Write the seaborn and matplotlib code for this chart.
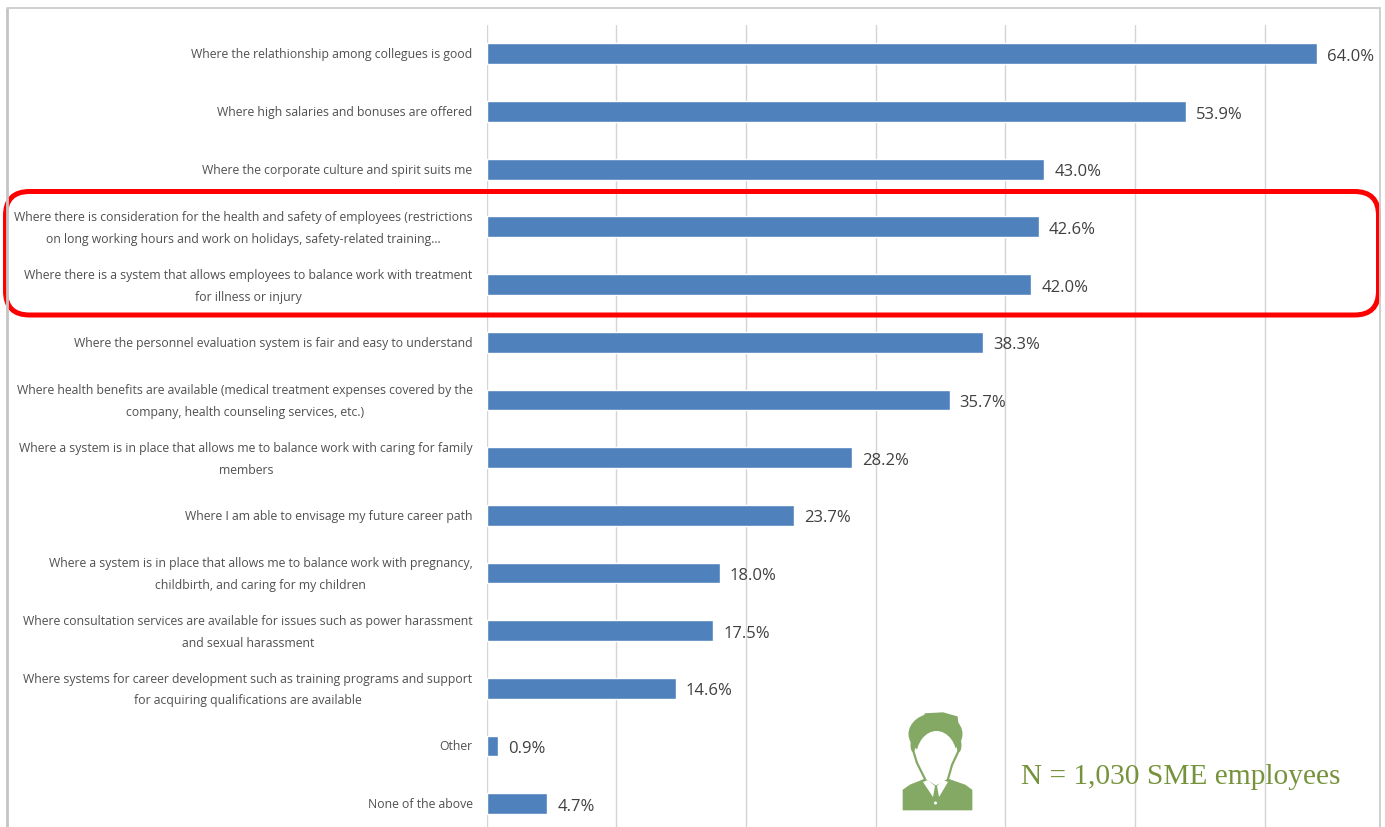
import matplotlib
matplotlib.use('Agg')
import matplotlib.pyplot as plt
import matplotlib.transforms as mtrans
import pandas as pd
import seaborn as sns
from matplotlib.patches import FancyBboxPatch, Ellipse, Polygon

#-Data-----------------------------------------------------------------------------------------------

labels = [
    'Where the relathionship among collegues is good',
    'Where high salaries and bonuses are offered',
    'Where the corporate culture and spirit suits me',
    'Where there is consideration for the health and safety of employees (restrictions\non long working hours and work on holidays, safety-related training...',
    'Where there is a system that allows employees to balance work with treatment\nfor illness or injury',
    'Where the personnel evaluation system is fair and easy to understand',
    'Where health benefits are available (medical treatment expenses covered by the\ncompany, health counseling services, etc.)',
    'Where a system is in place that allows me to balance work with caring for family\nmembers',
    'Where I am able to envisage my future career path',
    'Where a system is in place that allows me to balance work with pregnancy,\nchildbirth, and caring for my children',
    'Where consultation services are available for issues such as power harassment\nand sexual harassment',
    'Where systems for career development such as training programs and support\nfor acquiring qualifications are available',
    'Other',
    'None of the above',
]
values = [64.0, 53.9, 43.0, 42.6, 42.0, 38.3, 35.7, 28.2, 23.7, 18.0, 17.5, 14.6, 0.9, 4.7]
grid_ticks = [0, 10, 20, 30, 40, 50, 60]

df = pd.DataFrame({'label': labels, 'value': values})

W, H = 1385, 827
BLUE = '#4f81bd'
GREEN = '#83a964'

#-Figure---------------------------------------------------------------------------------------------

sns.set_style('white')
plt.rcParams['font.family'] = ['Open Sans', 'DejaVu Sans']

fig = plt.figure(figsize=(W / 100, H / 100), dpi=100)
ax = fig.add_axes([486.5 / W, (H - 832.5) / H, (1380 - 486.5) / W, (832.5 - 25) / H])

sns.barplot(data=df, x='value', y='label', color=BLUE, saturation=1, width=0.36, ax=ax)

ax.set_xlim(0, (1380 - 486.5) / 12.97)
ax.set_ylim(len(labels) - 0.5, -0.5)
ax.set_xticks(grid_ticks)
ax.set_xlabel('')
ax.set_ylabel('')
ax.tick_params(axis='x', length=0, labelbottom=False)
ax.tick_params(axis='y', length=0, pad=10)
ax.set_yticks(range(len(labels)))
ax.set_yticklabels(labels, fontsize=8.8, color='#505050', linespacing=1.85, ha='right', multialignment='center')

# two-line labels sit a little high in the original
for t in ax.get_yticklabels():
    shift = 4 if '\n' in t.get_text() else 0.5
    t.set_transform(t.get_transform() + mtrans.Affine2D().translate(0, shift))

ax.grid(axis='x', color='#d4d4d4', lw=1.0)
ax.set_axisbelow(True)
for s in ax.spines.values():
    s.set_visible(False)

for i, v in enumerate(values):
    ax.annotate(f'{v:.1f}%', (v, i), xytext=(10, -3), textcoords='offset pixels', va='center', ha='left',
                fontsize=12, color='#404040')

#-Overlay-in-pixel-coordinates-(frame,-highlight,-icon,-note)----------------------------------------

over = fig.add_axes([0, 0, 1, 1], facecolor='none')
over.set_xlim(0, W)
over.set_ylim(H, 0)
over.axis('off')

over.plot([6.5, 6.5], [8, H], color='#c4c4c4', lw=2, solid_capstyle='butt')
over.plot([6.5, 1380, 1380], [8, 8, H], color='#cccccc', lw=1.3, solid_joinstyle='miter')

over.add_patch(FancyBboxPatch((5.5, 191.5), 1373, 123.5, boxstyle='round,pad=0,rounding_size=24',
                              fill=False, ec='#ff0000', lw=3.6))

# person icon
over.add_patch(Ellipse((935.5, 734), 54, 42, fc=GREEN, ec='none'))
over.add_patch(Polygon([(925, 714), (943, 713), (957, 717), (958, 726), (930, 726)], closed=True, fc=GREEN,
                       ec=GREEN, lw=1, joinstyle='round'))
over.add_patch(Ellipse((911.5 + 1.5, 745), 5, 14, fc=GREEN, ec='none'))
over.add_patch(Ellipse((959, 745), 5, 14, fc=GREEN, ec='none'))
over.add_patch(Ellipse((936.5, 758), 41, 54, fc='white', ec='none'))
over.plot([913, 917, 925], [750, 763, 779], color=GREEN, lw=1.6)
over.plot([959, 952, 948], [750, 765, 779], color=GREEN, lw=1.6)
over.add_patch(Polygon([(903, 810), (903, 790), (910, 785), (925, 779), (936, 786), (948, 779),
                        (965, 785), (972, 790), (972, 810)], closed=True, fc=GREEN, ec=GREEN, lw=0.5))
over.add_patch(Polygon([(923, 782), (928, 780), (935, 786), (933, 797)], closed=True, fc='white', ec='none'))
over.add_patch(Polygon([(948, 782), (943, 780), (937, 786), (939, 797)], closed=True, fc='white', ec='none'))
over.add_patch(Ellipse((935.5, 803), 3, 3, fc='white', ec='none'))

over.text(1021, 777, 'N = 1,030 SME employees', family='Liberation Serif', fontsize=21.2, color='#76933c',
          ha='left', va='center')

fig.savefig('out.png', dpi=100)
